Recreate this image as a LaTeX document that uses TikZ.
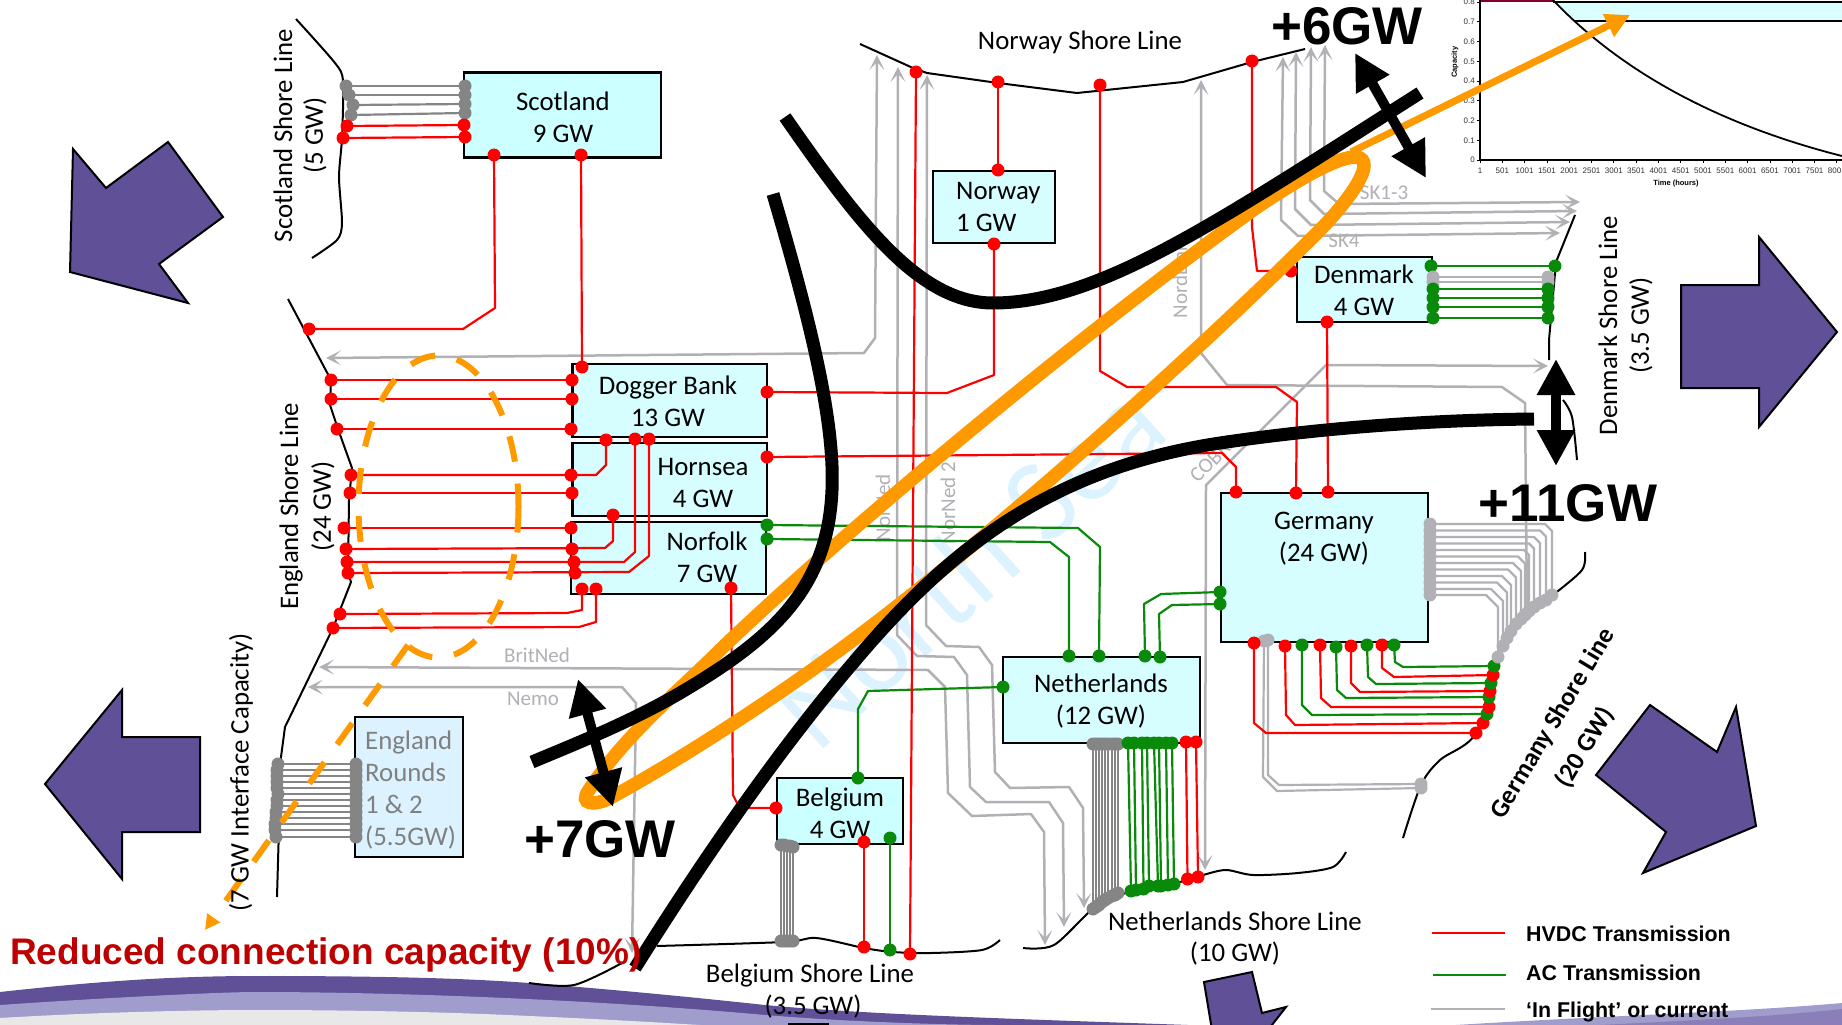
\documentclass[tikz,border=0pt]{standalone}
\usepackage{fontspec}
\setmainfont{Carlito}
\newfontfamily\arl{Liberation Sans}
\usetikzlibrary{arrows.meta}
\definecolor{hv}{HTML}{FF0000}
\definecolor{acg}{HTML}{0A8A0A}
\definecolor{gdk}{HTML}{858585}
\definecolor{glt}{HTML}{B0B0B5}
\definecolor{orng}{HTML}{FF9900}
\definecolor{purp}{HTML}{5F5097}
\definecolor{lilac}{HTML}{A09CCB}
\definecolor{mauve}{HTML}{8A7FB8}
\definecolor{pale}{HTML}{E8E8E8}
\definecolor{boxc}{HTML}{D6FDFF}
\definecolor{wmk}{HTML}{DCF3FF}
\newcommand\fs[2]{\fontsize{#1}{#2}\selectfont}
\newcounter{cb}
\newcommand\cable[4]{%
  \stepcounter{cb}%
  \node[dotn,fill=#1] (c\thecb a) at (#2) {};%
  \node[dotn,fill=#1] (c\thecb b) at (#4) {};%
  \draw[wire,draw=#1] (c\thecb a.center) #3 -- (c\thecb b.center);%
}
\newcommand\flow[4][flowboth]{%
  \stepcounter{cb}%
  \coordinate (f\thecb a) at (#2);%
  \coordinate (f\thecb b) at (#4);%
  \draw[inflight,#1] (f\thecb a) #3 -- (f\thecb b);%
}
\tikzset{
  dotn/.style={circle,inner sep=0pt,minimum size=13pt},
  wire/.style={line width=2.2pt,line join=round},
  gtip/.tip={Stealth[length=15pt,width=15pt,inset=8pt,line width=0pt]},
  inflight/.style={draw=glt,line width=2.5pt,line join=round},
  flowboth/.style={gtip-gtip},
  flowone/.style={gtip-},
  shore/.style={draw=black,line width=2pt,line join=round},
  boxn/.style={draw=black,line width=2.5pt,fill=boxc,inner sep=0pt},
  lab/.style={font=\fs{26.8}{32},align=center,inner sep=0pt,yshift=-1.5pt},
  glab/.style={font=\fs{21}{25},text=glt,inner sep=0pt},
  heavy/.style={draw=black,line width=13pt},
  loopo/.style={draw=orng,line width=13.5pt},
  bigarrow/.style={draw=black,line width=10pt,{Triangle[length=36pt,width=36pt]}-{Triangle[length=36pt,width=36pt]}},
  bigt/.style={font=\arl\bfseries\fs{53}{60},inner sep=0pt},
  purpa/.style={fill=purp,draw=black,line width=2pt,line join=miter},
  dasho/.style={draw=orng,line width=6pt,dash pattern=on 26pt off 22pt},
  legt/.style={font=\arl\bfseries\fs{21.4}{25},anchor=west,inner sep=0pt},
  tickl/.style={font=\arl\fs{8}{9},text=black!80,inner sep=0pt}
}
\begin{document}
\begin{tikzpicture}[x=1pt,y=-1pt]
\useasboundingbox (0,0) rectangle (1842,1025);
% bottom swoosh
\fill[purp] (0,1025) -- (0,992) .. controls (90,982) and (170,976) .. (255,976) .. controls (350,976) and (450,977) .. (529,983) .. controls (620,990) and (700,998) .. (765,1005) .. controls (870,1015) and (1050,1020) .. (1188,1025) -- cycle;
\fill[lilac] (0,1025) -- (0,1005) .. controls (100,998) and (220,992) .. (255,992) .. controls (400,992) and (600,1000) .. (765,1015) .. controls (850,1022) and (950,1025) .. (1000,1025) -- cycle;
\fill[pale] (0,1025) -- (0,1018) .. controls (100,1012) and (200,1010) .. (255,1010) .. controls (350,1010) and (450,1012) .. (529,1016) .. controls (600,1019) and (650,1022) .. (700,1025) -- cycle;
\fill[lilac] (1456,1025) .. controls (1600,1016) and (1740,1012) .. (1842,1003) -- (1842,1025) -- cycle;
\fill[mauve] (1600,1025) .. controls (1700,1020) and (1780,1016) .. (1842,1009) -- (1842,1025) -- cycle;
\fill[black] (788,1023) rectangle (829,1025);
% watermark
\node[font=\fs{118}{120},text=wmk,rotate=42,anchor=base,inner sep=0pt] (wm) at (995,595) {North Sea};
% chart
\fill[boxc!60!cyan!30] (1555,2) -- (1842,2) -- (1842,21) -- (1574,21) -- cycle;
\draw[line width=1.6pt] (1574,21) -- (1842,21);
\draw[line width=1.6pt] (1553,2) -- (1842,2);
\draw[line width=3pt,draw=purple!70!black] (1480,1) -- (1553,1);
\draw[line width=1.2pt] (1480,0) -- (1480,160) -- (1842,160);
\foreach \i in {0,...,16}{
  \pgfmathsetmacro\xx{1480+22.3*\i}
  \pgfmathtruncatemacro\vv{1+500*\i}
  \draw[line width=.8pt] (\xx,160) -- (\xx,163);
  \node[tickl] (tx\i) at (\xx,171) {\vv};
}
\foreach \i/\v in {0/0,1/0.1,2/0.2,3/0.3,4/0.4,5/0.5,6/0.6,7/0.7,8/0.8}{
  \pgfmathsetmacro\yy{160-19.75*\i}
  \draw[line width=.8pt] (1477,\yy) -- (1480,\yy);
  \node[tickl,anchor=east] (ty\i) at (1475,\yy) {\v};
}
\node[font=\arl\bfseries\fs{7.5}{9},rotate=90,inner sep=0pt] (capl) at (1455,62) {Capacity};
\node[font=\arl\bfseries\fs{7.5}{9},inner sep=0pt] (timel) at (1676,184) {Time (hours)};
\draw[line width=1.8pt] (1553,0) .. controls (1610,60) and (1700,120) .. (1842,156);
% gray labels
\node[glab] (lbrit) at (537,655) {BritNed};
\node[glab] (lnemo) at (533,699) {Nemo};
\node[glab] (lsk1) at (1384,193) {SK1-3};
\node[glab] (lsk4) at (1344,241) {SK4};
\node[glab,rotate=90] (lnord) at (1180,280) {NordLink};
\node[glab,rotate=90] (lnn1) at (883,508) {NorNed};
\node[glab,rotate=90] (lnn2) at (948,503) {NorNed 2};
\node[glab,rotate=45,anchor=west] (lcob) at (1193,479) {COBRA};
% shore lines
\draw[shore] plot[smooth,tension=.45] coordinates {(296,19) (335,63) (343,81) (342,138) (339,177) (342,223) (337,240) (312,258)};
\draw[shore] (288,299) -- (331,380) -- (330,405) -- (338,429) -- (352,468) -- (349,500) -- (348,573) -- (351,582) -- (333,628) -- (285,727) -- (281,757) -- (277,897);
\draw[shore] (860,44) -- (913,68) -- (927,73) -- (998,83) -- (1077,93) -- (1183,82) -- (1252,62) -- (1305,49);
\draw[shore] plot[smooth,tension=.5] coordinates {(529,983) (574,985) (622,963)};
\draw[shore] plot[smooth,tension=.5] coordinates {(657,946) (784,942) (816,938) (864,948) (893,952) (931,953) (982,950) (1000,940)};
\draw[shore] plot[smooth,tension=.5] coordinates {(1023,948) (1054,945) (1094,908) (1126,893) (1176,883) (1203,875) (1226,870) (1253,875) (1298,873) (1333,867) (1346,852)};
\draw[shore] plot[smooth,tension=.5] coordinates {(1403,838) (1421,785) (1440,760) (1476,733) (1497,657) (1524,617) (1553,595) (1582,570) (1585,552)};
\draw[shore] (1575,215) -- (1556,262) -- (1549,340) -- (1549,360);
\draw[shore] plot[smooth,tension=.5] coordinates {(1563,400) (1572,417) (1577,460)};
% in-flight / current links
\flow{877,55}{-- (875,338) -- (864,353)}{326,358}
\flow{898,67}{-- (897,635) -- (917,656) -- (954,657) -- (967,675) -- (970,787) -- (986,802) -- (1049,802) -- (1063,823)}{1064,927}
\flow{927,75}{-- (926,625) -- (946,646) -- (979,647) -- (992,665) -- (995,772) -- (1010,788) -- (1069,787) -- (1083,808)}{1084,908}
\flow{319,667}{-- (928,670) -- (945,687) -- (948,793) -- (972,816) -- (1031,814) -- (1044,832)}{1045,945}
\flow{308,687}{-- (622,687) -- (636,703)}{632,953}
\flow[flowone]{1201,80}{-- (1201,353) -- (1227,385) -- (1502,387) -- (1525,403)}{1527,613}
\flow{1205,870}{-- (1206,485) -- (1326,365)}{1548,366}
\flow{1283,57}{-- (1281,220) -- (1298,236)}{1560,233}
\flow{1296,52}{-- (1295,209) -- (1311,225)}{1570,222}
\flow{1311,47}{-- (1310,200) -- (1324,214)}{1577,211}
\flow{1325,45}{-- (1324,191) -- (1339,204)}{1580,202}
% boxes
\node[boxn,minimum width=197pt,minimum height=85pt,fill=boxc!60!cyan!40] (scot) at (562.5,115) {};
\node[boxn,minimum width=122pt,minimum height=72pt] (norw) at (994,207) {};
\node[boxn,minimum width=194.5pt,minimum height=73pt] (dogg) at (669.7,400.5) {};
\node[boxn,minimum width=194.5pt,minimum height=73pt] (horn) at (669.7,479.5) {};
\node[boxn,minimum width=195pt,minimum height=72pt] (norf) at (668.5,558) {};
\node[boxn,minimum width=135pt,minimum height=65pt] (denm) at (1364.5,289.5) {};
\node[boxn,minimum width=207pt,minimum height=149pt] (germ) at (1324.5,567.5) {};
\node[boxn,minimum width=197pt,minimum height=86pt] (neth) at (1101.5,700) {};
\node[boxn,minimum width=126pt,minimum height=66pt,fill=boxc!60!cyan!40] (belg) at (840,811) {};
\node[boxn,minimum width=108pt,minimum height=140pt,fill=wmk] (engr) at (409,787) {};
% box labels
\node[lab] (tscot) at (563,116) {Scotland\\9 GW};
\node[lab,align=left,anchor=west] (tnorw) at (956,205) {Norway\\1 GW};
\node[lab] (tdogg) at (668,400) {Dogger Bank\\13 GW};
\node[lab] (thorn) at (703,481) {Hornsea\\4 GW};
\node[lab] (tnorf) at (707,556) {Norfolk\\7 GW};
\node[lab] (tdenm) at (1364,289) {Denmark\\4 GW};
\node[lab] (tgerm) at (1324,537) {Germany\\(24 GW)};
\node[lab] (tneth) at (1101,700) {Netherlands\\(12 GW)};
\node[lab] (tbelg) at (840,812) {Belgium\\4 GW};
\node[lab,align=left,anchor=west,text=gray] (tengr) at (365,789) {England\\Rounds\\1 \& 2\\(5.5GW)};
% Scotland
\foreach \a/\b/\c/\d in {346/86/465/86,349/95/465/95,353/105/465/104,351/115/465/113}{\cable{gdk}{\a,\b}{}{\c,\d}}
\cable{hv}{347,126}{}{464,125}
\cable{hv}{343,138}{}{465,137}
\cable{hv}{494,155}{-- (495,308) -- (463,329)}{309,329}
\cable{hv}{581,155}{}{582,367}
% England
\cable{hv}{331,380}{}{572,380}
\cable{hv}{331,399}{}{572,399}
\cable{hv}{337,429}{}{571,429}
\cable{hv}{351,475}{-- (596,475) -- (606,465)}{606,440}
\node[dotn,fill=hv] (hornl) at (571,475) {};
\cable{hv}{350,493}{}{572,493}
\cable{hv}{344,528}{}{571,528}
\cable{hv}{346,549}{-- (605,548) -- (613,541)}{613,515}
\node[dotn,fill=hv] (norfl) at (572,549) {};
\cable{hv}{347,562}{-- (624,562) -- (635,552)}{635,439}
\node[dotn,fill=hv] (norfm) at (574,562) {};
\cable{hv}{348,573}{-- (629,572) -- (649,556)}{649,439}
\node[dotn,fill=hv] (norfn) at (575,573) {};
\cable{hv}{340,614}{-- (567,613) -- (582,610)}{582,589}
\cable{hv}{333,628}{-- (579,627) -- (596,622)}{596,589}
\foreach \a/\b in {278/764,277/770,277/776,277/782,277/788,278/794,277/800,277/806,276/812,276/818,275/824,275/830,276/837}{\cable{gdk}{\a,\b}{}{356,\b}}
% across the sea
\cable{hv}{767,392}{-- (947,393) -- (994,375)}{994,244}
\cable{hv}{998,170}{}{998,82}
\cable{hv}{767,457}{-- (1222,453) -- (1236,467)}{1236,492}
\cable{acg}{767,525}{-- (1078,528) -- (1100,547)}{1099,656}
\cable{acg}{767,539}{-- (1050,542) -- (1069,557)}{1069,656}
\cable{hv}{731,588}{-- (733,795) -- (737,803) -- (745,808)}{776,808}
\cable{acg}{858,778}{-- (858,709) -- (868,691)}{1003,687}
\cable{acg}{1145,656}{-- (1144,604) -- (1161,594)}{1220,592}
\cable{acg}{1160,657}{-- (1159,614) -- (1172,605)}{1220,604}
\cable{hv}{1296,493}{-- (1297,402) -- (1276,387) -- (1127,387) -- (1100,371)}{1100,85}
\cable{hv}{1328,492}{}{1327,322}
\cable{hv}{1252,61}{-- (1252,227) -- (1257,271)}{1291,271}
\cable{hv}{916,72}{}{910,954}
% Denmark
\cable{acg}{1431,266}{}{1555,266}
\cable{glt}{1433,277}{}{1548,277}
\cable{glt}{1433,282}{}{1548,282}
\foreach \y in {289,298,307,318}{\cable{acg}{1433,\y}{}{1548,\y}}
% Germany
\cable{glt}{1264,641}{-- (1263,777) -- (1277,791)}{1421,788}
\cable{glt}{1268,640}{-- (1268,775) -- (1279,785)}{1421,784}
\cable{hv}{1254,643}{-- (1254,723) -- (1266,733)}{1476,733}
\cable{hv}{1285,646}{-- (1286,715) -- (1295,725)}{1483,723}
\cable{acg}{1302,645}{-- (1302,705) -- (1312,715)}{1487,714}
\cable{hv}{1320,645}{-- (1321,698) -- (1331,707)}{1489,707}
\cable{acg}{1336,647}{-- (1337,690) -- (1346,698)}{1489,697}
\cable{hv}{1351,646}{-- (1351,683) -- (1360,692)}{1490,691}
\cable{acg}{1367,645}{-- (1368,677) -- (1376,684)}{1491,683}
\cable{hv}{1382,645}{-- (1382,668) -- (1394,677)}{1493,675}
\cable{acg}{1394,645}{-- (1395,662) -- (1403,667)}{1494,666}
\foreach \y/\cx/\ex/\ey in {524/1545/1552/595,530.5/1540/1546/600,537/1534/1540/603,543.5/1529/1534/607,550/1524/1529/611,556.5/1518/1525/615,563/1513/1521/619,569.5/1508/1516/624,576/1502/1511/631,582.5/1497/1507/638,589/1491/1503/646,595/1486/1498/657}{%
  \pgfmathsetmacro\yb{\y+\ex-\cx}
  \cable{glt}{1430,\y}{-- (\cx,\y) -- (\ex,\yb)}{\ex,\ey}
}
% Netherlands to shore
\foreach \x/\y in {1093/909,1096/907,1099/905,1102/902,1105/900,1108/898,1112/896,1115/895,1118/893}{\cable{gdk}{\x,744}{}{\x,\y}}
\foreach \a/\b/\d in {1128/1131/891,1134/1136/890,1142/1143.5/889,1147/1149/886,1154/1158/886,1159/1161/886,1166/1168/885,1172/1174/884}{\cable{acg}{\a,743}{}{\b,\d}}
\cable{hv}{1186,742}{}{1187.5,879}
\cable{hv}{1196,742}{}{1198,877}
% Belgium to shore
\foreach \a/\y in {781/845,784/845,787/846,790/846,793/847}{\cable{gdk}{\a,\y}{}{\a,941}}
\cable{hv}{864,842}{}{864,947}
\cable{acg}{890,838}{}{890,950}
% orange loop and arrow
\draw[loopo] (589,790) .. controls (625,735) and (680,690) .. (720,650) .. controls (850,525) and (1100,320) .. (1253,210) .. controls (1300,178) and (1345,152) .. (1360,158) .. controls (1375,166) and (1345,205) .. (1317,233) .. controls (1200,350) and (1000,530) .. (853,640) .. controls (780,695) and (680,760) .. (610,798) .. controls (595,806) and (578,805) .. (589,790) -- cycle;
\coordinate (oa) at (1351,152);
\coordinate (ob) at (1630,15);
\draw[draw=orng,line width=7pt,-{Triangle[length=24pt,width=24pt]}] (oa) -- (ob);
\draw[dasho] (438.5,506.5) ellipse [x radius=80,y radius=151];
\coordinate (da) at (408,645);
\coordinate (db) at (205,930);
\draw[dasho,-{Triangle[length=15pt,width=15pt]}] (da) -- (db);
% black curves
\draw[heavy] (785,117) .. controls (860,225) and (920,303) .. (993,303) .. controls (1100,303) and (1220,220) .. (1420,93);
\draw[heavy] (773,194) .. controls (810,320) and (835,420) .. (832,490) .. controls (828,590) and (770,640) .. (680,693) .. controls (630,722) and (580,742) .. (532,762);
\draw[heavy] (635,968) .. controls (690,880) and (770,760) .. (853,663) .. controls (940,560) and (1040,470) .. (1220,443) .. controls (1320,428) and (1430,420) .. (1534,419);
% black double arrows
\coordinate (a6a) at (1355,53);\coordinate (a6b) at (1426,178);
\coordinate (a11a) at (1556,359);\coordinate (a11b) at (1556,466);
\coordinate (a7a) at (578,679);\coordinate (a7b) at (613,807);
\draw[bigarrow] (a6a) -- (a6b);
\draw[bigarrow] (a11a) -- (a11b);
\draw[bigarrow] (a7a) -- (a7b);
% purple arrows
\draw[purpa] (73,149) -- (106,188) -- (168,142) -- (223,217) -- (159,264) -- (188,303) -- (70,272) -- cycle;
\draw[purpa] (1759,237) -- (1837,332) -- (1759,427) -- (1759,388) -- (1681,388) -- (1681,285) -- (1759,285) -- cycle;
\draw[purpa] (122,690) -- (45,784) -- (122,879) -- (122,832) -- (200,832) -- (200,737) -- (122,737) -- cycle;
\draw[purpa] (1736,707) -- (1756,826) -- (1643,873) -- (1666,832) -- (1596,775) -- (1650,705) -- (1717,752) -- cycle;
\draw[purpa] (1204,982) -- (1252,972) -- (1262,1013) -- (1286,1007) -- (1268,1030) -- (1212,1030) -- cycle;
% labels
\node[lab,rotate=90] (lsco) at (283,134) {Scotland Shore Line};
\node[lab,rotate=90] (lsco2) at (315,134) {(5 GW)};
\node[lab,rotate=90] (leng) at (291,505) {England Shore Line};
\node[lab,rotate=90] (leng2) at (323,505) {(24 GW)};
\node[lab,rotate=90] (lint) at (241,771) {(7 GW Interface Capacity)};
\node[lab,rotate=90] (ldk) at (1608,324) {Denmark Shore Line};
\node[lab,rotate=90] (ldk2) at (1641,324) {(3.5 GW)};
\node[lab,rotate=59,font=\bfseries\fs{26}{32}] (lde) at (1553,722) {Germany Shore Line};
\node[lab,rotate=59,font=\bfseries\fs{26}{32}] (lde2) at (1585,746) {(20 GW)};
\node[lab] (lbe) at (810,974) {Belgium Shore Line};
\node[lab] (lbe2) at (813,1005) {(3.5 GW)};
\node[lab] (lnl) at (1235,920) {Netherlands Shore Line};
\node[lab] (lnl2) at (1235,952) {(10 GW)};
\node[lab] (lno) at (1080,41) {Norway Shore Line};
\node[bigt] (g6) at (1347,26) {+6GW};
\node[bigt] (g11) at (1568,503) {+11GW};
\node[bigt] (g7) at (600,839) {+7GW};
\node[font=\arl\bfseries\fs{37}{42},text=red!75!black,anchor=west,inner sep=0pt] (redt) at (10,955) {Reduced connection capacity (10\%)};
% legend
\coordinate (l1a) at (1432,933);\coordinate (l1b) at (1505,933);
\coordinate (l2a) at (1433,975);\coordinate (l2b) at (1506,975);
\coordinate (l3a) at (1431,1009);\coordinate (l3b) at (1505,1009);
\draw[wire,draw=hv] (l1a) -- (l1b);
\draw[wire,draw=acg] (l2a) -- (l2b);
\draw[wire,draw=glt] (l3a) -- (l3b);
\node[legt] (le1) at (1526,934) {HVDC Transmission};
\node[legt] (le2) at (1526,973) {AC Transmission};
\node[legt] (le3) at (1526,1012) {‘In Flight’ or current};
\end{tikzpicture}
\end{document}
